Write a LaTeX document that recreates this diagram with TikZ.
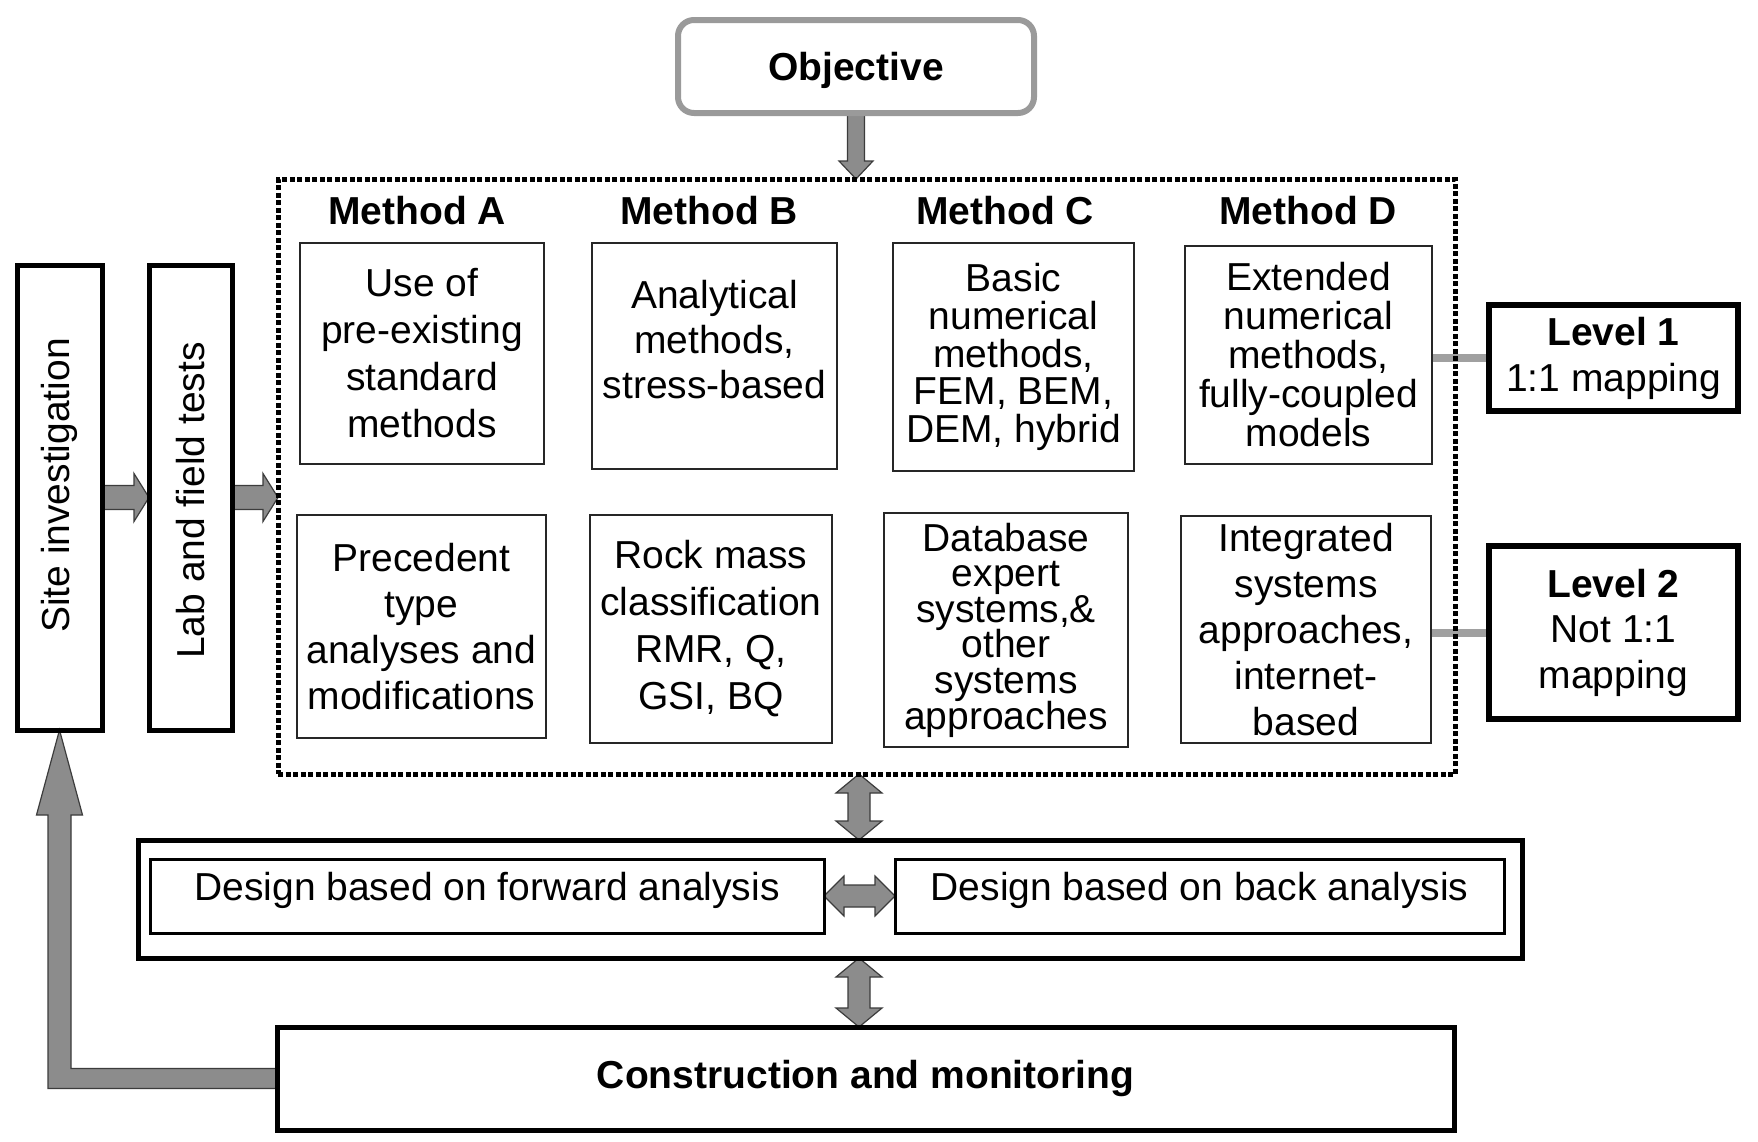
\documentclass[tikz,border=0pt]{standalone}
\usepackage{fontspec}
\setmainfont{Liberation Sans}
\usetikzlibrary{calc}
\definecolor{arrowgray}{HTML}{8C8C8C}
\definecolor{arrowedge}{HTML}{3C3C3C}
\definecolor{linkgray}{HTML}{A0A0A0}
\definecolor{objgray}{HTML}{9A9A9A}
\pgfdeclarelayer{bg}
\pgfdeclarelayer{paper}
\pgfsetlayers{paper,bg,main}
\newcommand{\fs}[1]{\fontsize{39}{#1}\selectfont\lineskiplimit=-30pt}
\begin{document}
\begin{tikzpicture}[x=1pt,y=-1pt,
  every node/.style={inner sep=0pt, outer sep=0pt},
  txt/.style={align=center, font=\fs{47}},
  mbox/.style={draw=black!85, line width=1.6pt, align=center, font=\fs{47}},
  head/.style={font=\fs{47}\bfseries},
  objbox/.style={draw=objgray, line width=6pt, rounded corners=16pt, font=\fs{47}\bfseries, text depth=0pt},
  dotbox/.style={draw=black, line width=5pt, dash pattern=on 5pt off 2.5pt},
  tallbox/.style={draw=black, line width=5pt},
  lvlbox/.style={draw=black, line width=6pt, align=center},
  thickbox/.style={draw=black, line width=5pt},
  midbox/.style={draw=black, line width=3pt, font=\fs{47}, text depth=19pt},
  barrow/.style={fill=arrowgray, draw=arrowedge, line width=1.2pt, line join=miter},
  link/.style={draw=linkgray, line width=8pt}]
\useasboundingbox (0,0) rectangle (1758,1141);
\begin{pgfonlayer}{paper}
\fill[white] (0,0) rectangle (1758,1141);
\end{pgfonlayer}

% top
\node[objbox, minimum width=356pt, minimum height=93pt] (obj) at (856,66.5) {Objective};
\node[dotbox, minimum width=1177pt, minimum height=595pt] (dots) at (866.5,476.5) {};
\coordinate (ax) at (859,0);

% headers
\node[head] (ha) at (417,211) {Method A};
\node[head] (hb) at (709,211) {Method B};
\node[head] (hc) at (1005,211) {Method C};
\node[head] (hd) at (1308,211) {Method D};

% row 1
\node[mbox, minimum width=244pt, minimum height=221pt] (a1) at (422,353.5) {Use of\\pre-existing\\standard\\methods};
\node[mbox, minimum width=245pt, minimum height=226pt] (b1) at (714.5,356) {};
\node[txt, font=\fs{45}] (b1t) at ([yshift=16pt]b1.center) {Analytical\\methods,\\stress-based};
\node[mbox, minimum width=241pt, minimum height=228pt, font=\fs{37.6}] (c1) at (1013.5,357) {Basic\\numerical\\methods,\\FEM, BEM,\\DEM, hybrid};
\node[mbox, minimum width=247pt, minimum height=218pt, font=\fs{39}] (d1) at (1308.5,355) {Extended\\numerical\\methods,\\fully-coupled\\models};

% row 2
\node[mbox, minimum width=249pt, minimum height=223pt, font=\fs{46}] (a2) at (421.5,626.5) {Precedent\\type\\analyses and\\modifications};
\node[mbox, minimum width=242pt, minimum height=228pt, font=\fs{47}] (b2) at (711,629) {Rock mass\\classification\\RMR, Q,\\GSI, BQ};
\node[mbox, minimum width=244pt, minimum height=234pt, font=\fs{35.6}] (c2) at (1006,630) {Database\\expert\\systems,\&\\other\\systems\\approaches};
\node[mbox, minimum width=250pt, minimum height=227pt, font=\fs{45.8}] (d2) at (1306,629.5) {Integrated\\systems\\approaches,\\internet-\\based};

% levels
\node[lvlbox, minimum width=249pt, minimum height=106pt, font=\fs{46}] (l1) at (1613.5,358) {\textbf{Level 1}\\1:1 mapping};
\node[lvlbox, minimum width=249pt, minimum height=173pt, font=\fs{45.5}] (l2) at (1613.5,632.5) {\textbf{Level 2}\\Not 1:1\\mapping};

% left boxes
\node[tallbox, minimum width=85pt, minimum height=465pt] (site) at (59.5,497.5) {};
\node[txt, rotate=90] (sitet) at ([yshift=12pt]site.center) {Site investigation};
\node[tallbox, minimum width=83pt, minimum height=465pt] (lab) at (190.5,497.5) {};
\node[txt, rotate=90] (labt) at ([yshift=-3pt]lab.center) {Lab and field tests};

% design
\node[thickbox, minimum width=1384pt, minimum height=118pt] (des) at (830,899) {};
\node[midbox, minimum width=674pt, minimum height=74pt] (fwd) at (487,896) {Design based on forward analysis};
\node[midbox, minimum width=609pt, minimum height=74pt] (back) at (1199.5,896) {Design based on back analysis};

% construction
\node[thickbox, minimum width=1177pt, minimum height=103pt, font=\fs{47}\bfseries] (cons) at (865.5,1078.5) {Construction and monitoring};

\begin{pgfonlayer}{bg}
% level links
\draw[link] (d1.east |- l1.west) -- (l1.west);
\draw[link] (d2.east |- l2.west) -- (l2.west);

% objective -> methods
\path[barrow] let \p1=(obj.south), \p2=(obj.south |- dots.north) in
  (\x1-8.5pt,\y1) -- (\x1+8.5pt,\y1) -- (\x1+8.5pt,\y2+18pt) -- (\x1+17pt,\y2+18pt)
  -- (\x1,\y2) -- (\x1-17pt,\y2+18pt) -- (\x1-8.5pt,\y2+18pt) -- cycle;

% site -> lab
\path[barrow] let \p1=(site.east), \p2=(lab.west |- site.east) in
  (\x1,\y1+12pt) -- (\x2-15pt,\y1+12pt) -- (\x2-15pt,\y1+24pt) -- (\x2,\y1)
  -- (\x2-15pt,\y1-24pt) -- (\x2-15pt,\y1-12pt) -- (\x1,\y1-12pt) -- cycle;

% lab -> methods
\path[barrow] let \p1=(lab.east), \p2=(dots.west |- lab.east) in
  (\x1,\y1+12pt) -- (\x2-15pt,\y1+12pt) -- (\x2-15pt,\y1+24pt) -- (\x2,\y1)
  -- (\x2-15pt,\y1-24pt) -- (\x2-15pt,\y1-12pt) -- (\x1,\y1-12pt) -- cycle;

% methods <-> design
\path[barrow] let \p1=(ax |- dots.south), \p2=(ax |- des.north) in
  (\x1,\y1) -- (\x1+23pt,\y1-19pt) -- (\x1+11pt,\y1-19pt) -- (\x1+11pt,\y2+19pt)
  -- (\x1+23pt,\y2+19pt) -- (\x1,\y2) -- (\x1-23pt,\y2+19pt) -- (\x1-11pt,\y2+19pt)
  -- (\x1-11pt,\y1-19pt) -- (\x1-23pt,\y1-19pt) -- cycle;

% design <-> construction
\path[barrow] let \p1=(ax |- des.south), \p2=(ax |- cons.north) in
  (\x1,\y1) -- (\x1+23pt,\y1-19pt) -- (\x1+11pt,\y1-19pt) -- (\x1+11pt,\y2+19pt)
  -- (\x1+23pt,\y2+19pt) -- (\x1,\y2) -- (\x1-23pt,\y2+19pt) -- (\x1-11pt,\y2+19pt)
  -- (\x1-11pt,\y1-19pt) -- (\x1-23pt,\y1-19pt) -- cycle;

% forward <-> back
\path[barrow] let \p1=(fwd.east), \p2=(back.west |- fwd.east) in
  (\x1,\y1) -- (\x1+20pt,\y1+20pt) -- (\x1+20pt,\y1+11pt) -- (\x2-20pt,\y1+11pt)
  -- (\x2-20pt,\y1+20pt) -- (\x2,\y1) -- (\x2-20pt,\y1-20pt) -- (\x2-20pt,\y1-11pt)
  -- (\x1+20pt,\y1-11pt) -- (\x1+20pt,\y1-20pt) -- cycle;

% construction -> site investigation (feedback)
\path[barrow] let \p1=(cons.west), \p2=(site.south) in
  (\x1,\y1+10pt) -- (\x2+11.5pt,\y1+10pt) -- (\x2+11.5pt,\y2-85pt) -- (\x2+23pt,\y2-85pt)
  -- (\x2,\y2) -- (\x2-23pt,\y2-85pt) -- (\x2-11.5pt,\y2-85pt) -- (\x2-11.5pt,\y1-10pt)
  -- (\x1,\y1-10pt) -- cycle;
\end{pgfonlayer}
\end{tikzpicture}
\end{document}
